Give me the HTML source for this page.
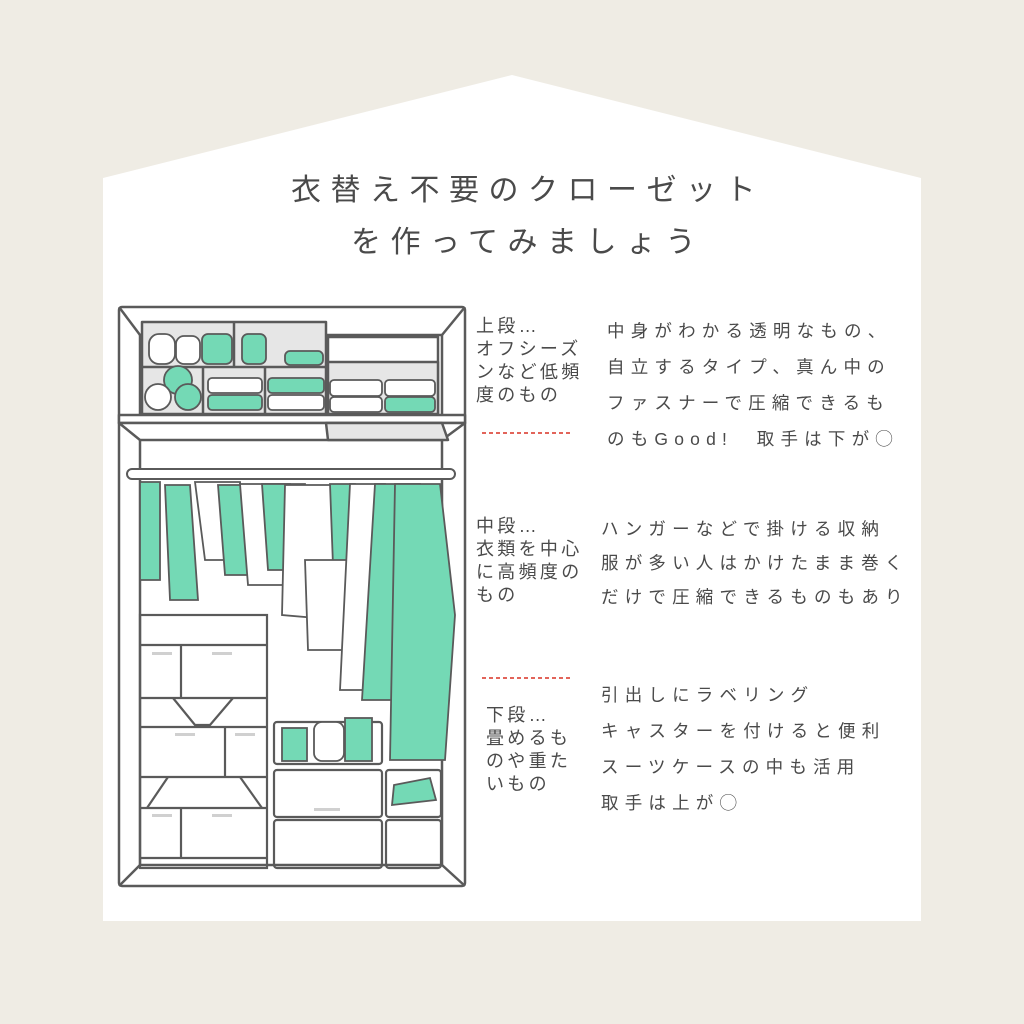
<!DOCTYPE html>
<html><head><meta charset="utf-8"><style>
html,body{margin:0;padding:0;background:#efece4;}
body{width:1024px;height:1024px;position:relative;overflow:hidden;font-family:"Liberation Sans","Noto Sans CJK JP",sans-serif;color:#4a4a4a;}
.t{position:absolute;white-space:nowrap;}
.title{font-size:30px;letter-spacing:9.5px;left:5px;width:1046px;text-align:center;}
.lb{font-size:18px;line-height:23px;letter-spacing:3.3px;}
.r{font-size:17.5px;letter-spacing:6.2px;}
</style></head><body>
<svg width="1024" height="1024" style="position:absolute;left:0;top:0">
<polygon points="512,75 921,178 921,921 103,921 103,178" fill="#fff"/>
<g stroke="#e2645a" stroke-width="2" stroke-dasharray="4,3"><line x1="482" y1="433" x2="570" y2="433"/><line x1="482" y1="678" x2="570" y2="678"/></g>
<g fill="none" stroke="#5a5a5a" stroke-width="2.5" stroke-linejoin="round">
<rect x="119" y="307" width="346" height="579" rx="3"/>
<rect x="140" y="335" width="302" height="530"/>
<line x1="119" y1="307" x2="140" y2="335"/><line x1="465" y1="307" x2="442" y2="335"/>
<line x1="119" y1="886" x2="140" y2="865"/><line x1="465" y1="886" x2="442" y2="865"/>
<rect x="119" y="415" width="346" height="8" fill="#fff"/>
<polygon points="119,423 465,423 442,440 140,440" fill="#fff"/>
<polygon points="326,423 442,423 448,440 328,440" fill="#e6e6e6"/>
<rect x="142" y="322" width="184" height="92" fill="#e6e6e6"/>
<line x1="142" y1="367" x2="326" y2="367"/><line x1="234" y1="322" x2="234" y2="367"/>
<line x1="203" y1="367" x2="203" y2="414"/><line x1="265" y1="367" x2="265" y2="414"/>
<rect x="328" y="337" width="110" height="77"/><rect x="328" y="362" width="110" height="52" fill="#e6e6e6"/>
</g>
<g fill="#74d9b5" stroke="#5a5a5a" stroke-width="1.8">
<rect x="176" y="336" width="24" height="28" rx="8" fill="#fff"/><rect x="149" y="334" width="26" height="30" rx="10" fill="#fff"/>
<rect x="202" y="334" width="30" height="30" rx="6"/><rect x="242" y="334" width="24" height="30" rx="6"/>
<rect x="285" y="351" width="38" height="14" rx="5"/>
<circle cx="178" cy="380" r="14"/><circle cx="158" cy="397" r="13" fill="#fff"/><circle cx="188" cy="397" r="13"/>
<rect x="208" y="378" width="54" height="15" rx="4" fill="#fff"/><rect x="208" y="395" width="54" height="15" rx="4"/>
<rect x="268" y="378" width="56" height="15" rx="4"/><rect x="268" y="395" width="56" height="15" rx="4" fill="#fff"/>
<rect x="330" y="380" width="52" height="16" rx="4" fill="#fff"/><rect x="330" y="397" width="52" height="15" rx="4" fill="#fff"/>
<rect x="385" y="380" width="50" height="16" rx="4" fill="#fff"/><rect x="385" y="397" width="50" height="15" rx="4"/>
</g>
<rect x="127" y="469" width="328" height="10" rx="5" fill="#fff" stroke="#5a5a5a" stroke-width="2"/>
<g stroke="#5a5a5a" stroke-width="1.8" fill="#74d9b5">
<polygon points="140,482 160,482 160,580 140,580"/>
<polygon points="165,485 190,485 198,600 170,600"/>
<polygon points="195,482 240,482 248,560 205,560" fill="#fff"/>
<polygon points="218,485 262,485 268,575 225,575"/>
<polygon points="240,484 290,484 290,585 248,585" fill="#fff"/>
<polygon points="262,484 305,484 310,570 268,570"/>
<polygon points="285,485 335,485 340,620 282,615" fill="#fff"/>
<polygon points="330,484 355,484 360,620 335,620"/>
<polygon points="305,560 370,560 372,650 308,650" fill="#fff"/>
<polygon points="350,484 385,484 390,690 340,690" fill="#fff"/>
<polygon points="375,484 420,484 415,700 362,700"/>
<polygon points="395,484 440,484 455,615 445,760 390,760"/>
</g>
<g fill="none" stroke="#5a5a5a" stroke-width="2.2">
<rect x="140" y="615" width="127" height="253"/>
<line x1="140" y1="645" x2="267" y2="645"/><line x1="140" y1="698" x2="267" y2="698"/>
<line x1="140" y1="727" x2="267" y2="727"/><line x1="140" y1="777" x2="267" y2="777"/>
<line x1="140" y1="808" x2="267" y2="808"/><line x1="140" y1="858" x2="267" y2="858"/>
<line x1="181" y1="645" x2="181" y2="698"/><line x1="225" y1="727" x2="225" y2="777"/><line x1="181" y1="808" x2="181" y2="858"/>
<polyline points="173,698 195,725 210,725 233,698"/><polyline points="168,777 147,808"/><polyline points="240,777 262,808"/>
<rect x="274" y="722" width="108" height="42" rx="3"/>
<rect x="274" y="770" width="108" height="47" rx="3"/><rect x="274" y="820" width="108" height="48" rx="3"/>
<rect x="386" y="770" width="55" height="47" rx="3"/><rect x="386" y="820" width="55" height="48" rx="3"/>
</g>
<g fill="#74d9b5" stroke="#5a5a5a" stroke-width="1.8">
<rect x="282" y="728" width="25" height="33"/><rect x="314" y="722" width="30" height="39" rx="8" fill="#fff"/><rect x="345" y="718" width="27" height="43"/>
<polygon points="394,785 430,778 436,800 392,805"/>
</g>
<g fill="#d0d0d0"><rect x="152" y="652" width="20" height="3"/><rect x="212" y="652" width="20" height="3"/><rect x="175" y="733" width="20" height="3"/><rect x="235" y="733" width="20" height="3"/><rect x="152" y="814" width="20" height="3"/><rect x="212" y="814" width="20" height="3"/><rect x="314" y="808" width="26" height="3"/></g>
</svg>
<div class="t title" style="top:165px">衣替え不要のクローゼット</div>
<div class="t title" style="top:217px">を作ってみましょう</div>
<div class="t lb" style="left:476px;top:315px">上段…<br>オフシーズ<br>ンなど低頻<br>度のもの</div>
<div class="t r" style="left:607px;top:313px;line-height:36px">中身がわかる透明なもの、<br>自立するタイプ、真ん中の<br>ファスナーで圧縮できるも<br>のもGood!　取手は下が◯</div>
<div class="t lb" style="left:476px;top:515px">中段…<br>衣類を中心<br>に高頻度の<br>もの</div>
<div class="t r" style="left:601px;top:512px;line-height:34px">ハンガーなどで掛ける収納<br>服が多い人はかけたまま巻く<br>だけで圧縮できるものもあり</div>
<div class="t lb" style="left:486px;top:704px">下段…<br>畳めるも<br>のや重た<br>いもの</div>
<div class="t r" style="left:601px;top:677px;line-height:36px">引出しにラベリング<br>キャスターを付けると便利<br>スーツケースの中も活用<br>取手は上が◯</div>
</body></html>
